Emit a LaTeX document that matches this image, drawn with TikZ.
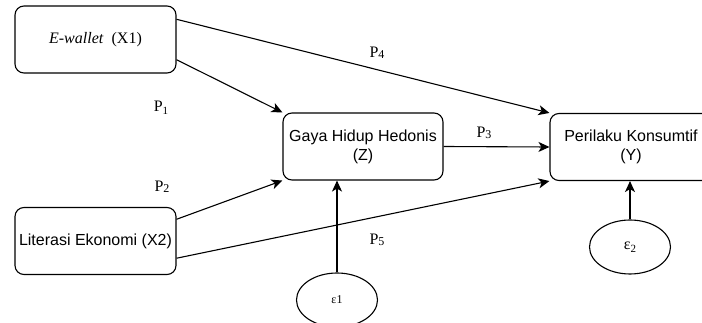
\documentclass[tikz,border=0pt]{standalone}
\usepackage{fontspec}
\setmainfont{Liberation Serif}
\newfontfamily\arialf{Liberation Sans}
\usetikzlibrary{arrows.meta,shapes.geometric}
\newcommand\Pold[1]{P\raisebox{-0.15ex}{\fontsize{12}{12}\selectfont #1}}
\newcommand\Psub[1]{P\raisebox{-0.45ex}{\fontsize{11}{11}\selectfont #1}}
\begin{document}
\begin{tikzpicture}[x=1pt,y=-1pt,
  box/.style={draw,line width=1.1pt,rounded corners=9pt,minimum width=161pt,minimum height=67pt,inner sep=0pt,align=center,font=\arialf\fontsize{16}{19}\selectfont},
  err/.style={draw,line width=1.1pt,ellipse,minimum width=81pt,minimum height=54pt,inner sep=0pt},
  arr/.style={line width=1.1pt,-{Stealth[length=11pt,width=10pt,inset=3pt]}},
  lab/.style={font=\fontsize{16}{16}\selectfont,inner sep=0pt}]
\useasboundingbox (0,0) rectangle (702,323);
\clip (0,0) rectangle (702,323);
\node[box] (ew) at (95.5,39.5) {\fontspec{Liberation Serif}\textit{E-wallet}\ \ (X1)};
\node[box] (lit) at (95.5,241) {Literasi Ekonomi (X2)};
\node[box,minimum width=160pt] (gaya) at (363,146.5) {Gaya Hidup Hedonis\\(Z)};
\node[box,minimum width=162pt] (per) at (631,147) {Perilaku Konsumtif\\(Y)};
\node[err] (e1) at (337,300) {};
\node[err] (e2) at (630,247) {};
\node[lab] at (337,300) {\fontsize{12}{12}\selectfont ε1};
\node[lab] at (630,247) {ε\raisebox{-0.45ex}{\fontsize{11}{11}\selectfont 2}};
\draw[arr] (ew.-14) -- (gaya.north west);
\draw[arr] (ew.14.5) -- (per.north west);
\draw[arr] (gaya.east) -- (per.west);
\draw[arr] (lit.15) -- (gaya.south west);
\draw[arr] (lit.-12.5) -- (per.south west);
\draw[arr] (e1.north) -- (gaya.south -| e1.north);
\draw[arr] (e2.north) -- (per.south -| e2.north);
\node[lab] (p1) at (161,108) {\Psub{1}};
\node[lab] (p2) at (162,187) {\Pold{2}};
\node[lab] (p3) at (484,133) {\Pold{3}};
\node[lab] (p4) at (377,53) {\Pold{4}};
\node[lab] (p5) at (377,240) {\Pold{5}};
\end{tikzpicture}
\end{document}
